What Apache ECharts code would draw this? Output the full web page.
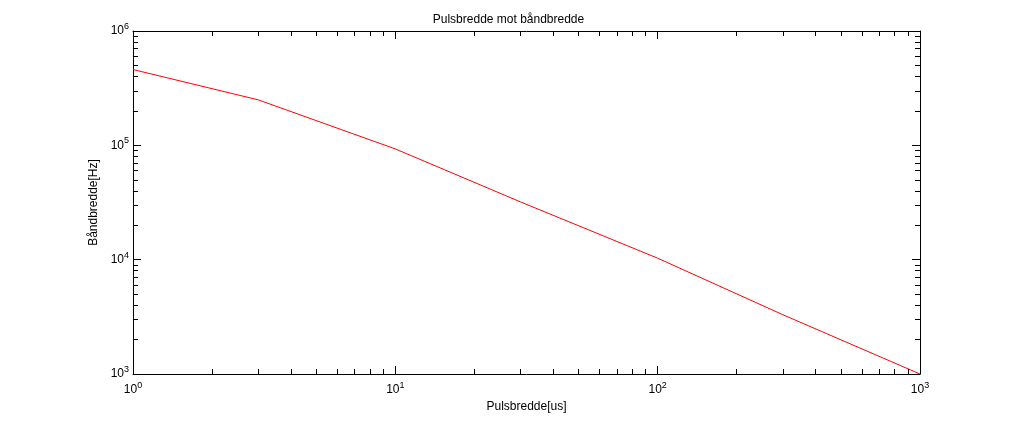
<!DOCTYPE html>
<html>
<head>
<meta charset="UTF-8">
<style>html,body{margin:0;background:#fff}#c{width:1017px;height:421px}</style>
</head>
<body>
<div id="c"></div>
<script src="https://cdn.jsdelivr.net/npm/echarts@6/dist/echarts.min.js"></script>
<script>
var pulseWidth = [1, 3, 10, 30, 100, 300, 1000];
var bandwidth = [4.6e5, 2.5e5, 9.3e4, 3.2e4, 1.03e4, 3.3e3, 1000];
var xDecades = [1, 10, 100];
var yDecades = [1000, 10000, 100000];

var chart = echarts.init(document.getElementById('c'));
var font = 'Liberation Sans, Arial, sans-serif';

function powLabel(v) {
    var e = Math.round(Math.log10(v));
    return '{b|10}{s|' + e + '}';
}
var rich = {
    b: {fontSize: 12, fontFamily: font, color: '#000'},
    s: {fontSize: 9, fontFamily: font, color: '#000', padding: [0, 0, 9, 0]}
};

// minor ticks at 2..9 inside each decade, all four sides
var minor = [];
var xf = 1.106, yf = 1.045;
xDecades.forEach(function (d) {
    for (var k = 2; k <= 9; k++) {
        var x = d * k;
        minor.push([{coord: [x, 1000]}, {coord: [x, 1000 * xf]}]);
        minor.push([{coord: [x, 1e6 / xf]}, {coord: [x, 1e6]}]);
    }
});
yDecades.forEach(function (d) {
    for (var k = 2; k <= 9; k++) {
        var y = d * k;
        minor.push([{coord: [1, y]}, {coord: [yf, y]}]);
        minor.push([{coord: [1000 / yf, y]}, {coord: [1000, y]}]);
    }
});

var axisBase = {
    type: 'log', logBase: 10,
    axisLine: {onZero: false, lineStyle: {color: '#000', width: 1}},
    axisTick: {inside: true, length: 8, lineStyle: {color: '#000'}},
    splitLine: {show: false}
};

chart.setOption({
    animation: false,
    title: {
        text: 'Pulsbredde mot båndbredde', left: 'center', top: 9,
        textStyle: {fontSize: 12, fontWeight: 'normal', fontFamily: font, color: '#000'}
    },
    grid: {left: 133, right: 97, top: 31, bottom: 47},
    xAxis: [
        Object.assign({}, axisBase, {
            position: 'bottom', min: 1, max: 1000,
            name: 'Pulsbredde[us]', nameLocation: 'middle', nameGap: 27,
            nameTextStyle: {fontSize: 12, fontFamily: font, color: '#000'},
            axisLabel: {formatter: powLabel, rich: rich, margin: 7}
        }),
        Object.assign({}, axisBase, {
            position: 'top', min: 1, max: 1000, axisLabel: {show: false}
        })
    ],
    yAxis: [
        Object.assign({}, axisBase, {
            position: 'left', min: 1000, max: 1e6,
            name: 'Båndbredde[Hz]', nameLocation: 'middle', nameGap: 32,
            nameTextStyle: {fontSize: 12, fontFamily: font, color: '#000'},
            axisLabel: {formatter: powLabel, rich: rich, margin: 4}
        }),
        Object.assign({}, axisBase, {
            position: 'right', min: 1000, max: 1e6, axisLabel: {show: false}
        })
    ],
    series: [{
        type: 'line',
        data: pulseWidth.map(function (x, i) { return [x, bandwidth[i]]; }),
        showSymbol: false,
        lineStyle: {color: '#ff0000', width: 1},
        markLine: {
            silent: true, symbol: 'none', label: {show: false},
            lineStyle: {color: '#000', width: 1, type: 'solid'},
            data: minor
        }
    }]
});
</script>
</body>
</html>
